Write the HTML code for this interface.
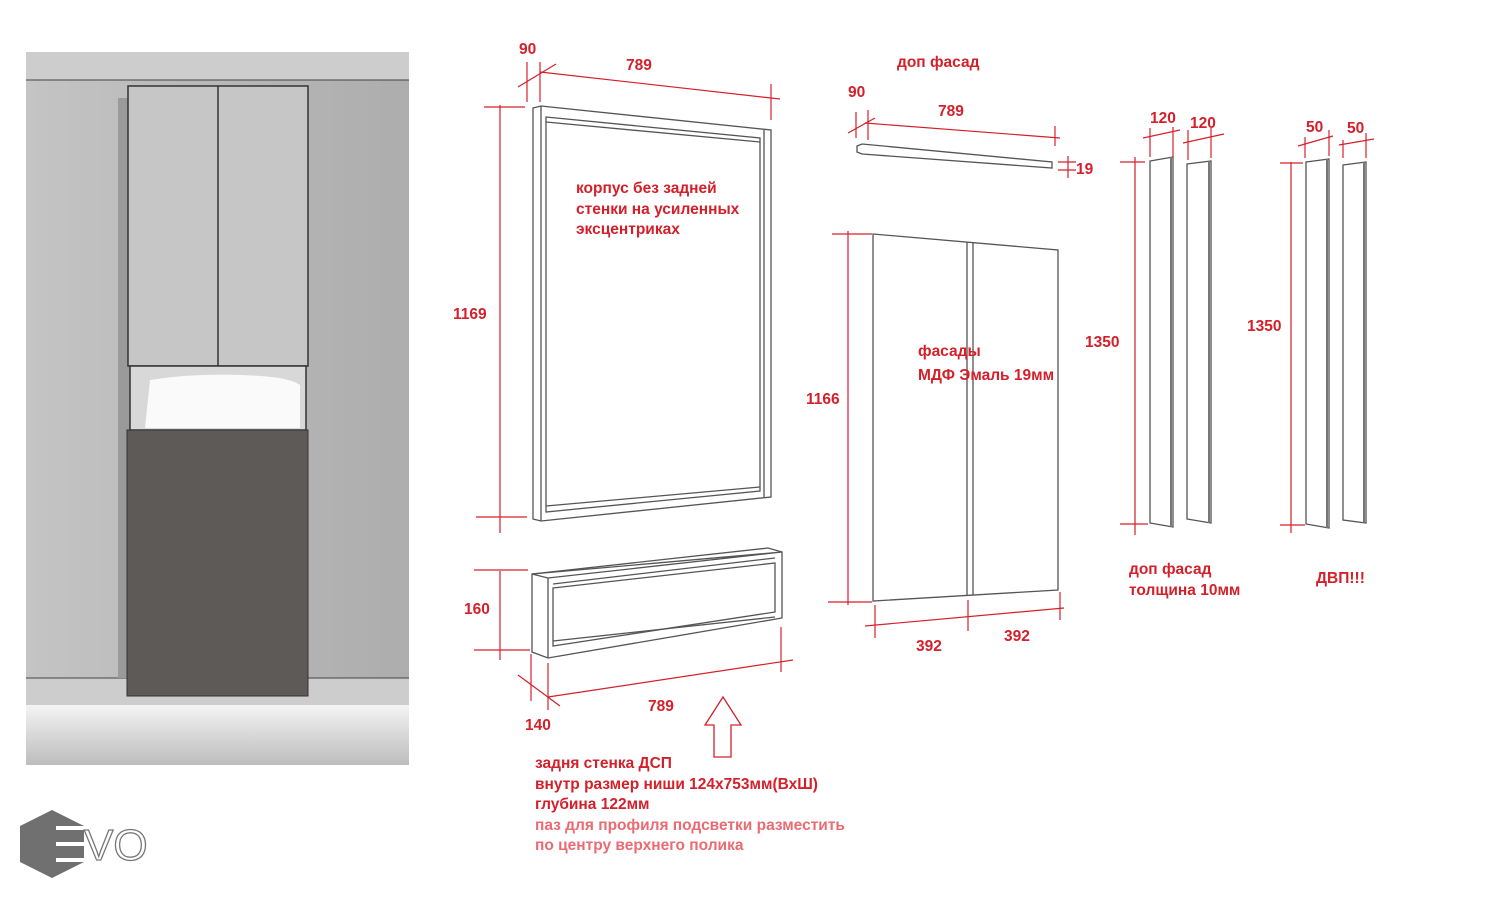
<!DOCTYPE html>
<html><head><meta charset="utf-8"><style>
html,body{margin:0;padding:0;background:#fff;width:1489px;height:900px;overflow:hidden}
svg text{font-family:"Liberation Sans","DejaVu Sans",sans-serif;font-weight:bold;fill:#d4202a;font-size:15.5px}
</style></head><body>
<svg width="1489" height="900" viewBox="0 0 1489 900" xmlns="http://www.w3.org/2000/svg">
<defs>
<linearGradient id="wall" x1="0" y1="0" x2="1" y2="0"><stop offset="0" stop-color="#c4c4c4"/><stop offset="0.5" stop-color="#b8b8b8"/><stop offset="1" stop-color="#adadad"/></linearGradient>
<linearGradient id="floor" x1="0" y1="0" x2="0" y2="1"><stop offset="0" stop-color="#f4f4f4"/><stop offset="0.5" stop-color="#d8d8d8"/><stop offset="1" stop-color="#bdbdbd"/></linearGradient>
</defs>
<rect x="26" y="52" width="383" height="713" fill="#cdcdcd"/>
<rect x="26" y="80" width="383" height="598" fill="url(#wall)"/>
<line x1="26" y1="80" x2="409" y2="80" stroke="#444" stroke-width="1"/>
<line x1="26" y1="678" x2="409" y2="678" stroke="#444" stroke-width="1"/>
<rect x="26" y="705" width="383" height="60" fill="url(#floor)"/>
<rect x="118" y="98" width="12" height="580" fill="#9a9a9a"/>
<rect x="128" y="86" width="180" height="280" fill="#c6c6c6" stroke="#333" stroke-width="1.5"/>
<line x1="218" y1="86" x2="218" y2="366" stroke="#333" stroke-width="1.5"/>
<rect x="130" y="366" width="176" height="64" fill="#d8d8d8" stroke="#333" stroke-width="1.5"/>
<path d="M150 380 Q200 372 260 376 Q290 378 300 385 L300 428 L145 428 Z" fill="#fafafa"/>
<rect x="127" y="430" width="181" height="266" fill="#5e5a58" stroke="#333" stroke-width="1"/>
<polygon points="52,810 84,826 84,862 52,878 20,862 20,826" fill="#707070"/>
<rect x="56" y="826" width="28" height="4" fill="#fff"/><rect x="56" y="842" width="28" height="4" fill="#fff"/><rect x="56" y="858" width="28" height="4" fill="#fff"/>
<text x="84" y="860" style="font-size:44px;font-weight:normal;fill:#fff;stroke:#777;stroke-width:1.3">VO</text>

<g stroke="#555" stroke-width="1.3" fill="#fff">
<polygon points="533,108 541,106 771,130 771,497 541,521 533,519"/>
<polygon points="541,106 541,521" fill="none"/>
<polygon points="546,117 760,138 760,491 546,512" fill="none"/>
<line x1="546" y1="122" x2="760" y2="142"/>
<line x1="546" y1="506" x2="760" y2="487"/>
<line x1="764" y1="130" x2="764" y2="497"/>
<polygon points="532,574 768,548 782,552 782,618 548,658 532,652" />
<line x1="548" y1="578" x2="548" y2="658"/>
<polygon points="532,574 548,578 782,552" fill="none"/>
<polygon points="553,588 775,563 775,612 553,646" fill="none"/>
<line x1="553" y1="584" x2="775" y2="558"/>
<line x1="553" y1="641" x2="775" y2="617"/>
<polygon points="857,146 862,144 1052,162 1052,168 862,154 857,152"/>
<polygon points="873,234 1058,250 1058,590 873,601"/>
<line x1="967" y1="242" x2="967" y2="596"/>
<line x1="973" y1="243" x2="973" y2="595"/>
<polygon points="1150,161 1173,157 1173,527 1150,523"/>
<polygon points="1187,164 1211,161 1211,523 1187,519"/>
<polygon points="1306,162 1329,159 1329,528 1306,524"/>
<polygon points="1343,165 1366,162 1366,523 1343,520"/>
<line x1="1171" y1="157" x2="1171" y2="527" stroke="#777" stroke-width="2"/>
<line x1="1209" y1="161" x2="1209" y2="523" stroke="#777" stroke-width="2"/>
<line x1="1327" y1="159" x2="1327" y2="528" stroke="#777" stroke-width="2"/>
<line x1="1364" y1="162" x2="1364" y2="523" stroke="#777" stroke-width="2"/>
</g>

<g stroke="#d4202a" stroke-width="1.2" fill="none">
<line x1="527" y1="62" x2="527" y2="102"/><line x1="540" y1="62" x2="540" y2="102"/>
<line x1="518" y1="87" x2="556" y2="64"/>
<line x1="540" y1="72" x2="780" y2="99"/><line x1="771" y1="84" x2="771" y2="120"/>
<line x1="500" y1="105" x2="500" y2="533"/><line x1="484" y1="107" x2="525" y2="107"/><line x1="476" y1="517" x2="527" y2="517"/>
<line x1="500" y1="571" x2="500" y2="660"/><line x1="474" y1="570" x2="528" y2="570"/><line x1="474" y1="650" x2="530" y2="650"/>
<line x1="531" y1="654" x2="531" y2="701"/><line x1="548" y1="663" x2="548" y2="710"/>
<line x1="518" y1="675" x2="560" y2="706"/>
<line x1="548" y1="697" x2="793" y2="660"/><line x1="781" y1="627" x2="781" y2="672"/>
<line x1="856" y1="112" x2="856" y2="138"/><line x1="868" y1="110" x2="868" y2="140"/><line x1="848" y1="133" x2="875" y2="118"/>
<line x1="865" y1="123" x2="1060" y2="138"/><line x1="1055" y1="126" x2="1055" y2="146"/>
<line x1="1068" y1="156" x2="1068" y2="178"/><line x1="1058" y1="162" x2="1076" y2="162"/><line x1="1058" y1="170" x2="1076" y2="170"/>
<line x1="848" y1="231" x2="848" y2="605"/><line x1="832" y1="234" x2="872" y2="234"/><line x1="828" y1="602" x2="872" y2="602"/>
<line x1="875" y1="605" x2="875" y2="638"/><line x1="968" y1="600" x2="968" y2="631"/><line x1="1060" y1="592" x2="1060" y2="620"/>
<line x1="865" y1="626" x2="1064" y2="608"/>
<line x1="1135" y1="157" x2="1135" y2="535"/><line x1="1120" y1="162" x2="1145" y2="162"/><line x1="1120" y1="524" x2="1148" y2="524"/>
<line x1="1150" y1="128" x2="1150" y2="157"/><line x1="1173" y1="127" x2="1173" y2="157"/><line x1="1143" y1="138" x2="1180" y2="130"/>
<line x1="1188" y1="130" x2="1188" y2="160"/><line x1="1211" y1="128" x2="1211" y2="158"/><line x1="1183" y1="143" x2="1224" y2="134"/>
<line x1="1291" y1="162" x2="1291" y2="533"/><line x1="1280" y1="163" x2="1303" y2="163"/><line x1="1280" y1="525" x2="1305" y2="525"/>
<line x1="1305" y1="137" x2="1305" y2="158"/><line x1="1329" y1="130" x2="1329" y2="156"/><line x1="1298" y1="146" x2="1333" y2="136"/>
<line x1="1343" y1="140" x2="1343" y2="158"/><line x1="1366" y1="133" x2="1366" y2="158"/><line x1="1339" y1="145" x2="1374" y2="139"/>
<polygon points="723,697 741,725 731,725 731,757 714,757 714,725 705,725" stroke-width="1.3"/>
</g>

<text x="519" y="54">90</text>
<text x="626" y="70">789</text>
<text x="453" y="319">1169</text>
<text x="576" y="193">корпус без задней</text>
<text x="576" y="214">стенки на усиленных</text>
<text x="576" y="234">эксцентриках</text>
<text x="464" y="614">160</text>
<text x="525" y="730">140</text>
<text x="648" y="711">789</text>
<text x="535" y="768">задня стенка ДСП</text>
<text x="535" y="789">внутр размер ниши 124х753мм(ВхШ)</text>
<text x="535" y="809">глубина 122мм</text>
<text x="535" y="830" style="fill:#ec6a72">паз для профиля подсветки разместить</text>
<text x="535" y="850" style="fill:#ec6a72">по центру верхнего полика</text>
<text x="897" y="67">доп фасад</text>
<text x="848" y="97">90</text>
<text x="938" y="116">789</text>
<text x="1076" y="174">19</text>
<text x="806" y="404">1166</text>
<text x="918" y="356">фасады</text>
<text x="918" y="380">МДФ Эмаль 19мм</text>
<text x="916" y="651">392</text>
<text x="1004" y="641">392</text>
<text x="1085" y="347">1350</text>
<text x="1150" y="123">120</text>
<text x="1190" y="128">120</text>
<text x="1129" y="574">доп фасад</text>
<text x="1129" y="595">толщина 10мм</text>
<text x="1247" y="331">1350</text>
<text x="1306" y="132">50</text>
<text x="1347" y="133">50</text>
<text x="1316" y="583">ДВП!!!</text>
</svg>
</body></html>
